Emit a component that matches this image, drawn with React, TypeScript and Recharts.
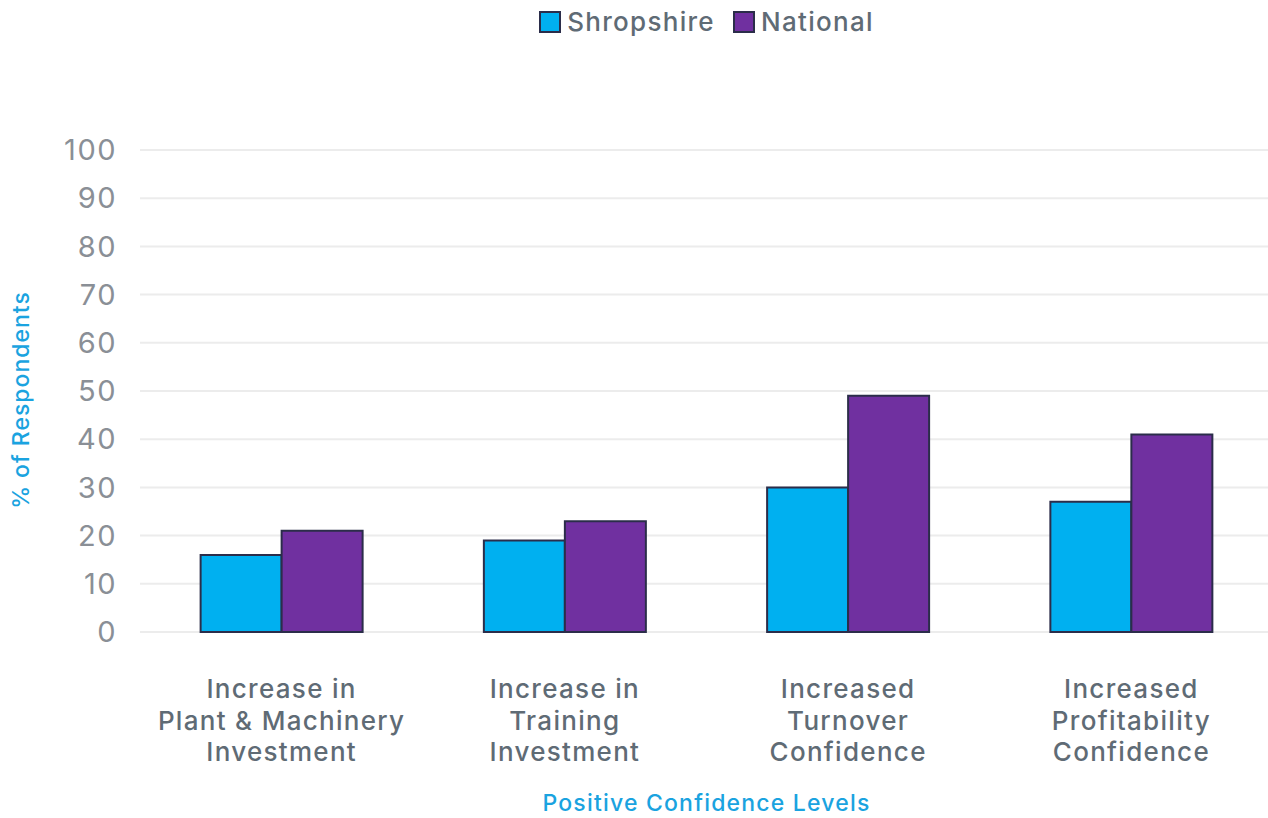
import { BarChart, Bar, XAxis, YAxis, CartesianGrid, Legend } from 'recharts'

const categories = [
    'Increase in\nPlant & Machinery\nInvestment',
    'Increase in\nTraining\nInvestment',
    'Increased\nTurnover\nConfidence',
    'Increased\nProfitability\nConfidence',
]
const shropshire = [16, 19, 30, 27]
const national = [21, 23, 49, 41]
const yTicks = [0, 10, 20, 30, 40, 50, 60, 70, 80, 90, 100]

const chartData = categories.map((name, i) => ({
    name,
    Shropshire: shropshire[i],
    National: national[i],
}))

const FONT = 'Inter, "Open Sans", sans-serif'
const TEXT = '#5f6b75'
const CYAN = '#1aa3e0'
const EDGE = '#2b2d4a'

const seriesColors: Record<string, string> = {
    Shropshire: '#00b0f0',
    National: '#7030a0',
}

function CategoryTick(props: any) {
    const { x, y, payload } = props
    const lines = String(payload.value).split('\n')
    return (
        <text
            x={x}
            y={y}
            textAnchor="middle"
            fill={TEXT}
            fontSize={26}
            fontWeight={500}
            letterSpacing={1.3}
            fontFamily={FONT}
        >
            {lines.map((line, i) => (
                <tspan key={i} x={x} dy={i === 0 ? 58 : 31.5}>
                    {line}
                </tspan>
            ))}
        </text>
    )
}

function LegendBox() {
    return (
        <div
            style={{
                display: 'flex',
                justifyContent: 'center',
                gap: 18,
                fontFamily: FONT,
                fontSize: 26,
                fontWeight: 500,
                letterSpacing: 1.3,
                color: TEXT,
            }}
        >
            {Object.keys(seriesColors).map((k) => (
                <span key={k} style={{ display: 'flex', alignItems: 'center', gap: 6 }}>
                    <span
                        style={{
                            width: 18,
                            height: 18,
                            background: seriesColors[k],
                            border: `2px solid ${EDGE}`,
                            display: 'inline-block',
                        }}
                    />
                    {k}
                </span>
            ))}
        </div>
    )
}

function YTitle(props: any) {
    const { viewBox } = props
    const cx = viewBox.x + 21
    const cy = viewBox.y + viewBox.height / 2 + 9
    return (
        <text
            x={cx}
            y={cy}
            transform={`rotate(-90, ${cx}, ${cy})`}
            textAnchor="middle"
            dominantBaseline="central"
            fill={CYAN}
            fontSize={23}
            fontWeight={500}
            letterSpacing={1}
            fontFamily={FONT}
        >
            % of Respondents
        </text>
    )
}

export default function App() {
    return (
        <div style={{ position: 'absolute', left: 0, top: 0, width: 1268, height: 818, overflow: 'hidden', background: '#fff' }}>
            <BarChart
                width={1275}
                height={818}
                data={chartData}
                margin={{ top: 119, right: 2, bottom: 0, left: 0 }}
                barGap={0}
                barCategoryGap="21.4%"
            >
                <CartesianGrid stroke="#ececec" strokeWidth={2} vertical={false} />
                <XAxis
                    dataKey="name"
                    height={186}
                    axisLine={false}
                    tickLine={false}
                    interval={0}
                    tick={<CategoryTick />}
                    label={{
                        value: 'Positive Confidence Levels',
                        position: 'insideBottom',
                        offset: 7,
                        fill: CYAN,
                        fontSize: 23,
                        fontWeight: 500,
                        letterSpacing: 1.2,
                        fontFamily: FONT,
                    }}
                />
                <YAxis
                    width={140}
                    domain={[0, 100]}
                    ticks={yTicks}
                    interval={0}
                    axisLine={false}
                    tickLine={false}
                    tickMargin={17}
                    tick={{ fontSize: 29, fill: '#8a8f96', fontFamily: FONT, letterSpacing: 1.5 }}
                    label={<YTitle />}
                />
                <Legend
                    verticalAlign="top"
                    align="center"
                    content={<LegendBox />}
                    wrapperStyle={{ top: 6, left: 140, width: 1133 }}
                />
                <Bar dataKey="Shropshire" fill={seriesColors.Shropshire} stroke={EDGE} strokeWidth={2} isAnimationActive={false} />
                <Bar dataKey="National" fill={seriesColors.National} stroke={EDGE} strokeWidth={2} isAnimationActive={false} />
            </BarChart>
        </div>
    )
}
